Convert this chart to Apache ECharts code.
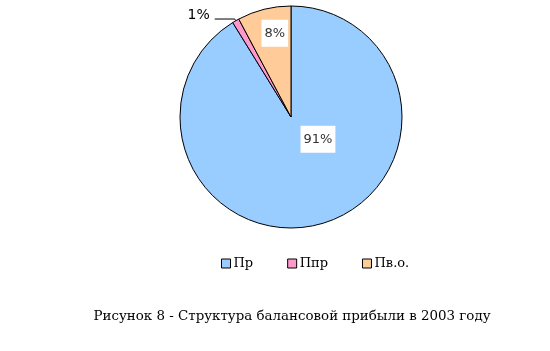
<!DOCTYPE html>
<html><head><meta charset="utf-8">
<script src="https://cdn.jsdelivr.net/npm/echarts@6/dist/echarts.min.js"></script>
<style>html,body{margin:0;padding:0;background:#fff}#c{width:550px;height:351px}</style>
</head><body><div id="c"></div>
<script>
const categories = ['Пр', 'Ппр', 'Пв.о.'];
const values = [91.2, 1.0, 7.8];
const valueLabels = ['91%', '1%', '8%'];
const colors = ['#99CCFF', '#FF99CC', '#FFCC99'];
const titleText = 'Рисунок 8 - Структура балансовой прибыли в 2003 году';

const chart = echarts.init(document.getElementById('c'), null, {renderer: 'canvas'});
const insideLabel = {
  show: true, position: 'inside', color: '#333', fontFamily: 'DejaVu Sans', fontSize: 13,
  backgroundColor: '#fff', padding: [7, 3, 7, 3], formatter: p => valueLabels[p.dataIndex]
};
const data = categories.map((c, i) => {
  const d = {name: c, value: values[i], itemStyle: {color: colors[i]}};
  if (i === 1) {
    d.label = {show: true, position: 'outside', color: '#000', fontFamily: 'DejaVu Sans', fontSize: 14,
      backgroundColor: 'transparent', padding: 0, formatter: p => valueLabels[p.dataIndex]};
    d.labelLine = {show: true, length: 2, length2: 20, lineStyle: {color: '#000', width: 1}};
  }
  return d;
});
const offsets = [[11, -34], [0, -4], [-2, -27]];
chart.setOption({
  animation: false,
  title: {text: titleText, left: 287, top: 305, textAlign: 'center',
    textStyle: {fontFamily: 'DejaVu Serif', fontSize: 13.4, fontWeight: 'normal', color: '#000'}},
  legend: {left: 216, top: 252, itemWidth: 9, itemHeight: 9, itemGap: 34,
    icon: 'rect', textStyle: {fontFamily: 'DejaVu Serif', fontSize: 13, color: '#000', padding: [0,0,0,-2]},
    itemStyle: {borderColor: '#000', borderWidth: 1}},
  series: [{
    type: 'pie', center: [291, 117], radius: 111, startAngle: 90, clockwise: true,
    label: insideLabel, labelLine: {show: false},
    itemStyle: {borderColor: '#000', borderWidth: 1},
    emphasis: {disabled: true},
    labelLayout: p => ({dx: offsets[p.dataIndex][0], dy: offsets[p.dataIndex][1]}),
    data: data
  }]
});
</script></body></html>
